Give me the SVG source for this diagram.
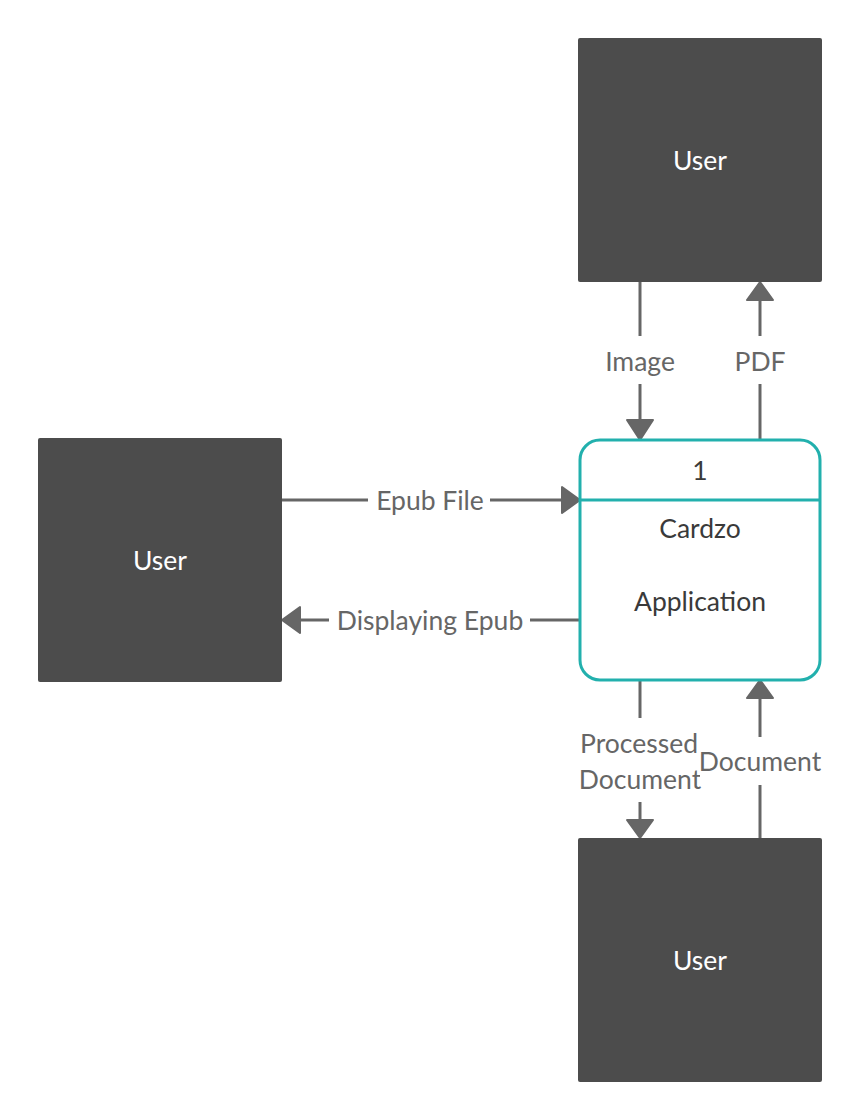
<svg xmlns="http://www.w3.org/2000/svg" width="862" height="1120" viewBox="0 0 862 1120">
<style>
.ent{fill:#4c4c4c}
.entt{fill:#ffffff;font-family:Lato,"Liberation Sans",sans-serif;font-size:26.5px;text-anchor:middle}
.proc{fill:#ffffff;stroke:#22b0ad;stroke-width:3}
.proct{fill:#3a3a3a;font-family:Lato,"Liberation Sans",sans-serif;font-size:26.5px;text-anchor:middle}
.ln{stroke:#666666;stroke-width:3;fill:none}
.ah{fill:#666666;stroke:#666666;stroke-width:2;stroke-linejoin:round}
.lbl{fill:#666666;font-family:Lato,"Liberation Sans",sans-serif;font-size:26.5px;text-anchor:middle}
.bg{fill:#ffffff}
</style>
<rect width="862" height="1120" fill="#ffffff"/>
<g id="connectors">
  <line class="ln" x1="640" y1="282" x2="640" y2="422"/>
  <rect class="bg" x="600" y="336" width="80" height="48"/>
  <polygon class="ah" points="627,420 653,420 640,440"/>
  <text class="lbl" x="640" y="371">Image</text>

  <line class="ln" x1="760" y1="440" x2="760" y2="300"/>
  <rect class="bg" x="726" y="336" width="68" height="48"/>
  <polygon class="ah" points="747,300 773,300 760,282"/>
  <text class="lbl" x="760" y="371">PDF</text>

  <line class="ln" x1="282" y1="500" x2="562" y2="500"/>
  <rect class="bg" x="368" y="485" width="122" height="30"/>
  <polygon class="ah" points="562,487 562,513 580,500"/>
  <text class="lbl" x="430" y="510">Epub File</text>

  <line class="ln" x1="580" y1="620" x2="300" y2="620"/>
  <rect class="bg" x="329" y="605" width="201" height="30"/>
  <polygon class="ah" points="300,607 300,633 282,620"/>
  <text class="lbl" x="430" y="630">Displaying Epub</text>

  <line class="ln" x1="640" y1="680" x2="640" y2="820"/>
  <rect class="bg" x="578" y="718" width="124" height="84"/>
  <polygon class="ah" points="627,820 653,820 640,838"/>
  <text class="lbl" x="639" y="753">Processed</text>
  <text class="lbl" x="640" y="789">Document</text>

  <line class="ln" x1="760" y1="838" x2="760" y2="698"/>
  <rect class="bg" x="700" y="737" width="122" height="48"/>
  <polygon class="ah" points="747,698 773,698 760,680"/>
  <text class="lbl" x="760" y="771">Document</text>
</g>
<g id="user-top">
  <rect class="ent" x="578" y="38" width="244" height="244" rx="2"/>
  <text class="entt" x="700" y="170">User</text>
</g>
<g id="user-left">
  <rect class="ent" x="38" y="438" width="244" height="244" rx="2"/>
  <text class="entt" x="160" y="570">User</text>
</g>
<g id="user-bottom">
  <rect class="ent" x="578" y="838" width="244" height="244" rx="2"/>
  <text class="entt" x="700" y="970">User</text>
</g>
<g id="process-1">
  <rect class="proc" x="580" y="440" width="240" height="240" rx="20"/>
  <line x1="580" y1="500" x2="820" y2="500" stroke="#22b0ad" stroke-width="3"/>
  <text class="proct" x="700" y="480">1</text>
  <text class="proct" x="700" y="538">Cardzo</text>
  <text class="proct" x="700" y="611">Application</text>
</g>
</svg>
